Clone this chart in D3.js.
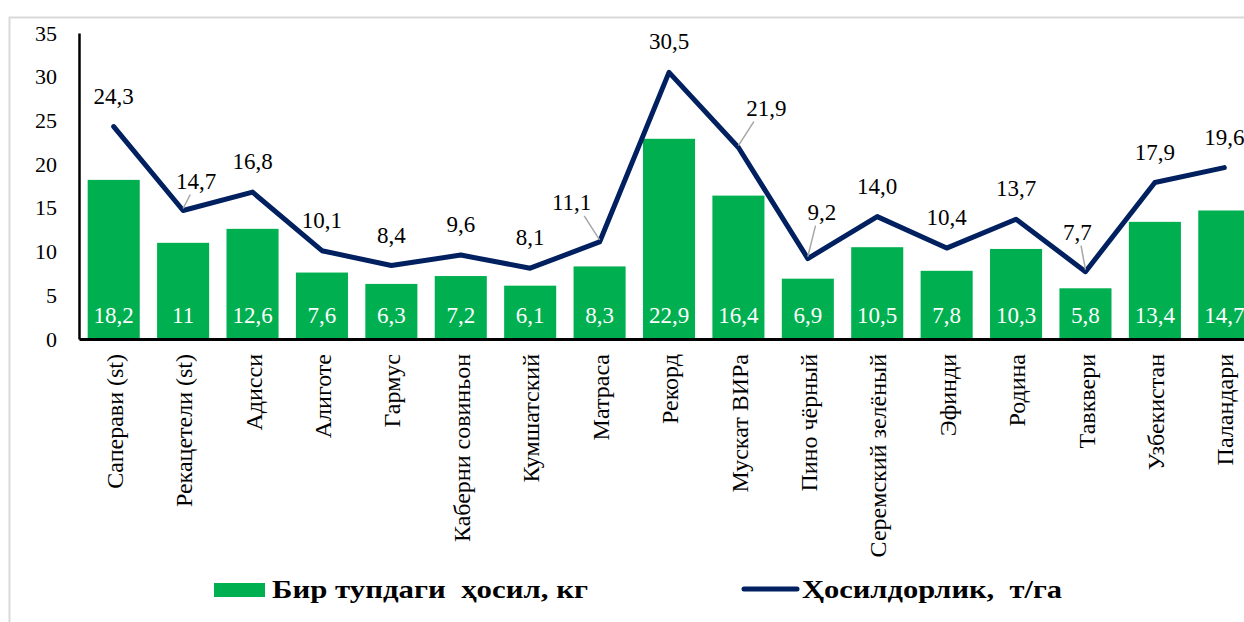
<!DOCTYPE html>
<html>
<head>
<meta charset="utf-8">
<script src="https://cdn.jsdelivr.net/npm/d3@7"></script>
</head>
<body style="margin:0; background:#fff">
<svg id="chart" width="1244" height="622" font-family="Liberation Serif"></svg>
<script>
var categories = ["Саперави (st)", "Рекацетели (st)", "Адисси", "Алиготе", "Гармус", "Каберни совиньон",
    "Кумшатский", "Матраса", "Рекорд", "Мускат ВИРа", "Пино чёрный", "Серемский зелёный",
    "Эфинди", "Родина", "Тавквери", "Узбекистан", "Паландари"];
var perVine = [18.2, 11, 12.6, 7.6, 6.3, 7.2, 6.1, 8.3, 22.9, 16.4, 6.9, 10.5, 7.8, 10.3, 5.8, 13.4, 14.7];
var yieldPerHa = [24.3, 14.7, 16.8, 10.1, 8.4, 9.6, 8.1, 11.1, 30.5, 21.9, 9.2, 14.0, 10.4, 13.7, 7.7, 17.9, 19.6];
var yTicks = [0, 5, 10, 15, 20, 25, 30, 35];
var barLegend = "Бир тупдаги  ҳосил, кг";
var lineLegend = "Ҳосилдорлик,  т/га";

// labels that were pulled off the line, with a leader line back to the point
var labelMoves = {1: [13, -30], 7: [-28, -40], 9: [28, -40], 10: [14, -47], 14: [-8, -40]};

var GREEN = "#00b050";
var NAVY = "#002060";
var FONT = "Liberation Serif";

var svg = d3.select("#chart");

// chart frame
svg.append("rect")
    .attr("x", 9.5).attr("y", 17.5)
    .attr("width", 1300).attr("height", 700)
    .attr("fill", "none")
    .attr("stroke", "#d9d9d9")
    .attr("stroke-width", 2);

var x = d3.scaleBand()
    .domain(categories)
    .range([79, 1259])
    .paddingInner(0.25)
    .paddingOuter(0.125);

var y = d3.scaleLinear()
    .domain([0, 35])
    .range([339, 33]);

// bars
svg.append("g").selectAll("rect")
    .data(perVine)
    .join("rect")
    .attr("x", function (d, i) { return x(categories[i]); })
    .attr("y", function (d) { return y(d); })
    .attr("width", x.bandwidth())
    .attr("height", function (d) { return y(0) - y(d); })
    .attr("fill", GREEN);

svg.append("g").selectAll("text")
    .data(perVine)
    .join("text")
    .attr("x", function (d, i) { return x(categories[i]) + x.bandwidth() / 2; })
    .attr("y", y(0) - 16)
    .attr("text-anchor", "middle")
    .attr("font-family", FONT)
    .attr("fill", "#fff")
    .attr("font-size", 23)
    .text(function (d) { return String(d).replace(".", ","); });

// y axis
var yAxis = svg.append("g")
    .attr("transform", "translate(79,0)")
    .call(d3.axisLeft(y).tickValues(yTicks).tickSize(0).tickPadding(22));
yAxis.attr("font-family", FONT);
yAxis.select(".domain").attr("stroke", "#000").attr("stroke-width", 2.5);
yAxis.selectAll("text").attr("font-size", 22).attr("font-family", FONT).attr("fill", "#000");

// x axis
var xAxis = svg.append("g")
    .attr("transform", "translate(0,339)")
    .call(d3.axisBottom(x).tickSize(0).tickPadding(0));
xAxis.attr("font-family", FONT);
xAxis.select(".domain").attr("stroke", "#000").attr("stroke-width", 3);
xAxis.selectAll("text")
    .attr("font-size", 24)
    .attr("font-family", FONT)
    .attr("fill", "#000")
    .attr("text-anchor", "end")
    .attr("transform", "rotate(-90)")
    .attr("x", -15)
    .attr("y", 0)
    .attr("dy", "0.38em");

// line
function cx(i) { return x(categories[i]) + x.bandwidth() / 2; }

var line = d3.line()
    .x(function (d, i) { return cx(i); })
    .y(function (d) { return y(d); });

svg.append("path")
    .datum(yieldPerHa)
    .attr("d", line)
    .attr("fill", "none")
    .attr("stroke", NAVY)
    .attr("stroke-width", 5)
    .attr("stroke-linejoin", "round")
    .attr("stroke-linecap", "round");

// leader lines
var moved = Object.keys(labelMoves).map(Number);
svg.append("g").selectAll("line")
    .data(moved)
    .join("line")
    .attr("x1", function (i) { return cx(i); })
    .attr("y1", function (i) { return y(yieldPerHa[i]) - 2; })
    .attr("x2", function (i) { return cx(i) + labelMoves[i][0] * 0.55; })
    .attr("y2", function (i) { return y(yieldPerHa[i]) + labelMoves[i][1] + 14; })
    .attr("stroke", "#a6a6a6")
    .attr("stroke-width", 1.5);

svg.append("g").selectAll("text")
    .data(yieldPerHa)
    .join("text")
    .attr("x", function (d, i) { return cx(i) + (labelMoves[i] ? labelMoves[i][0] : 0); })
    .attr("y", function (d, i) { return y(d) + (labelMoves[i] ? labelMoves[i][1] : -31); })
    .attr("dy", "0.35em")
    .attr("text-anchor", "middle")
    .attr("font-family", FONT)
    .attr("fill", "#000")
    .attr("font-size", 23)
    .text(function (d) { return d.toFixed(1).replace(".", ","); });

// legend
var legend = svg.append("g").attr("font-weight", "bold").attr("font-size", 25).attr("font-family", FONT);
legend.append("rect")
    .attr("x", 214).attr("y", 583).attr("width", 51).attr("height", 14)
    .attr("fill", GREEN);
legend.append("text")
    .attr("x", 272).attr("y", 598)
    .attr("textLength", 316)
    .attr("lengthAdjust", "spacingAndGlyphs")
    .style("white-space", "pre")
    .text(barLegend);
legend.append("line")
    .attr("x1", 744).attr("x2", 797).attr("y1", 589).attr("y2", 589)
    .attr("stroke", NAVY).attr("stroke-width", 5).attr("stroke-linecap", "round");
legend.append("text")
    .attr("x", 802).attr("y", 598)
    .attr("textLength", 260)
    .attr("lengthAdjust", "spacingAndGlyphs")
    .style("white-space", "pre")
    .text(lineLegend);
</script>
</body>
</html>
